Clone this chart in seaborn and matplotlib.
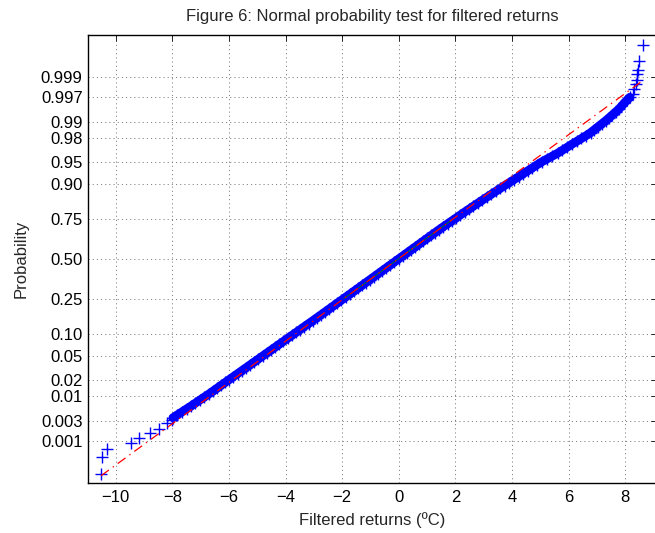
import matplotlib
matplotlib.use("Agg")
import matplotlib.pyplot as plt
import pandas as pd
import seaborn as sns
from statistics import NormalDist

# Sorted filtered returns (ºC) against their standard normal plotting positions
tail_low_ret = [-10.52, -10.48, -10.31, -9.48, -9.18, -8.79, -8.46, -8.18, -8.02]
tail_low_q = [-3.652, -3.371, -3.226, -3.132, -3.052, -2.962, -2.886, -2.795, -2.738]

body_q = [-2.70, -2.65, -2.60, -2.55, -2.50, -2.45, -2.40, -2.35, -2.30, -2.25,
          -2.20, -2.15, -2.10, -2.05, -2.00, -1.95, -1.90, -1.85, -1.80, -1.75,
          -1.70, -1.65, -1.60, -1.55, -1.50, -1.45, -1.40, -1.35, -1.30, -1.25,
          -1.20, -1.15, -1.10, -1.05, -1.00, -0.95, -0.90, -0.85, -0.80, -0.75,
          -0.70, -0.65, -0.60, -0.55, -0.50, -0.45, -0.40, -0.35, -0.30, -0.25,
          -0.20, -0.15, -0.10, -0.05, 0.00, 0.05, 0.10, 0.15, 0.20, 0.25,
          0.30, 0.35, 0.40, 0.45, 0.50, 0.55, 0.60, 0.65, 0.70, 0.75,
          0.80, 0.85, 0.90, 0.95, 1.00, 1.05, 1.10, 1.15, 1.20, 1.25,
          1.30, 1.35, 1.40, 1.45, 1.50, 1.55, 1.60, 1.65, 1.70, 1.75,
          1.80, 1.85, 1.90, 1.95, 2.00, 2.05, 2.10, 2.15, 2.20, 2.25,
          2.30, 2.35, 2.40, 2.45, 2.50, 2.55, 2.60, 2.65, 2.70, 2.75]
body_ret = [-7.982, -7.821, -7.660, -7.500, -7.339, -7.184, -7.030, -6.875, -6.721, -6.574,
            -6.427, -6.281, -6.134, -5.988, -5.841, -5.694, -5.547, -5.399, -5.252, -5.105,
            -4.957, -4.810, -4.663, -4.515, -4.368, -4.220, -4.073, -3.926, -3.778, -3.631,
            -3.484, -3.336, -3.189, -3.042, -2.894, -2.749, -2.604, -2.460, -2.315, -2.170,
            -2.025, -1.880, -1.735, -1.590, -1.445, -1.301, -1.158, -1.014, -0.870, -0.726,
            -0.583, -0.439, -0.295, -0.152, -0.008, 0.136, 0.280, 0.423, 0.567, 0.711,
            0.854, 0.998, 1.142, 1.286, 1.429, 1.580, 1.730, 1.881, 2.032, 2.182,
            2.333, 2.487, 2.642, 2.797, 2.951, 3.110, 3.268, 3.426, 3.585, 3.745,
            3.909, 4.073, 4.237, 4.399, 4.561, 4.723, 4.884, 5.046, 5.237, 5.428,
            5.619, 5.785, 5.950, 6.115, 6.285, 6.456, 6.627, 6.782, 6.915, 7.046,
            7.178, 7.310, 7.430, 7.547, 7.664, 7.781, 7.873, 7.965, 8.063, 8.165]

tail_high_ret = [8.27, 8.33, 8.39, 8.41, 8.43, 8.47, 8.50, 8.63]
tail_high_q = [2.812, 2.898, 2.983, 3.051, 3.141, 3.209, 3.362, 3.647]

# Robust fit: solid segment between the quartiles, dash-dot extension to the data range
quartile_ret = [-1.94, 1.90]
quartile_q = [-0.674, 0.674]
fit_ret = [-10.52, 8.63]
fit_q = [-3.686, 3.036]

prob_ticks = [0.001, 0.003, 0.01, 0.02, 0.05, 0.10, 0.25, 0.50,
              0.75, 0.90, 0.95, 0.98, 0.99, 0.997, 0.999]
prob_labels = ["0.001", "0.003", "0.01", "0.02", "0.05", "0.10", "0.25", "0.50",
               "0.75", "0.90", "0.95", "0.98", "0.99", "0.997", "0.999"]
x_ticks = [-10, -8, -6, -4, -2, 0, 2, 4, 6, 8]
x_limits = (-11.0, 9.11)
q_limits = (-3.81, 3.81)

sns.set_style("white")
plt.rcParams["font.family"] = ["Liberation Sans", "DejaVu Sans"]
plt.rcParams["lines.scale_dashes"] = False

samples = pd.DataFrame({
    "ret": tail_low_ret + body_ret + tail_high_ret,
    "q": tail_low_q + body_q + tail_high_q,
})
body = pd.DataFrame({"ret": body_ret, "q": body_q})

fig = plt.figure(figsize=(6.55, 5.33), dpi=100)
ax = fig.add_axes([87.5 / 655, 50 / 533, 569 / 655, 448 / 533])

# dense body of the sample drawn as a filled band under the markers
sns.lineplot(data=body, x="ret", y="q", sort=False, estimator=None,
             color=(0, 0, 1), linewidth=6.3, ax=ax, zorder=2)
sns.scatterplot(data=samples, x="ret", y="q", marker="+", s=64,
                color=(0, 0, 1), linewidth=1.0, ax=ax, zorder=3)
sns.lineplot(x=quartile_ret, y=quartile_q, sort=False, estimator=None,
             color=(0, 0.5, 0), linewidth=0.6, ax=ax, zorder=4)
sns.lineplot(x=fit_ret, y=fit_q, sort=False, estimator=None,
             color=(1, 0, 0), linewidth=0.9, ax=ax, zorder=5)
ax.lines[-1].set_linestyle((0, (7.0, 3.4, 1.0, 3.4)))

nd = NormalDist()
ax.set_yticks([nd.inv_cdf(p) for p in prob_ticks])
ax.set_yticklabels(prob_labels)
ax.set_xticks(x_ticks)
ax.set_xticklabels([str(v).replace("-", "\u2212") for v in x_ticks])
ax.set_xlim(*x_limits)
ax.set_ylim(*q_limits)

ax.grid(True, color="0.5", linewidth=0.7, linestyle=(0, (0.8, 2.2)))
ax.set_axisbelow(True)
ax.tick_params(direction="in", top=True, right=True, length=4, width=0.6,
               labelsize=12, colors="black")
ax.tick_params(axis="y", pad=3.5)
ax.tick_params(axis="x", pad=5)
for sp in ax.spines.values():
    sp.set_visible(True)
    sp.set_color("black")
    sp.set_linewidth(1.0)

ax.set_xlabel("Filtered returns (ºC)", fontsize=12, labelpad=5)
ax.set_ylabel("Probability", fontsize=12, labelpad=8.5)
ax.set_title("Figure 6: Normal probability test for filtered returns",
             fontsize=12, pad=10)

fig.savefig("out.png", dpi=100, facecolor="white")
